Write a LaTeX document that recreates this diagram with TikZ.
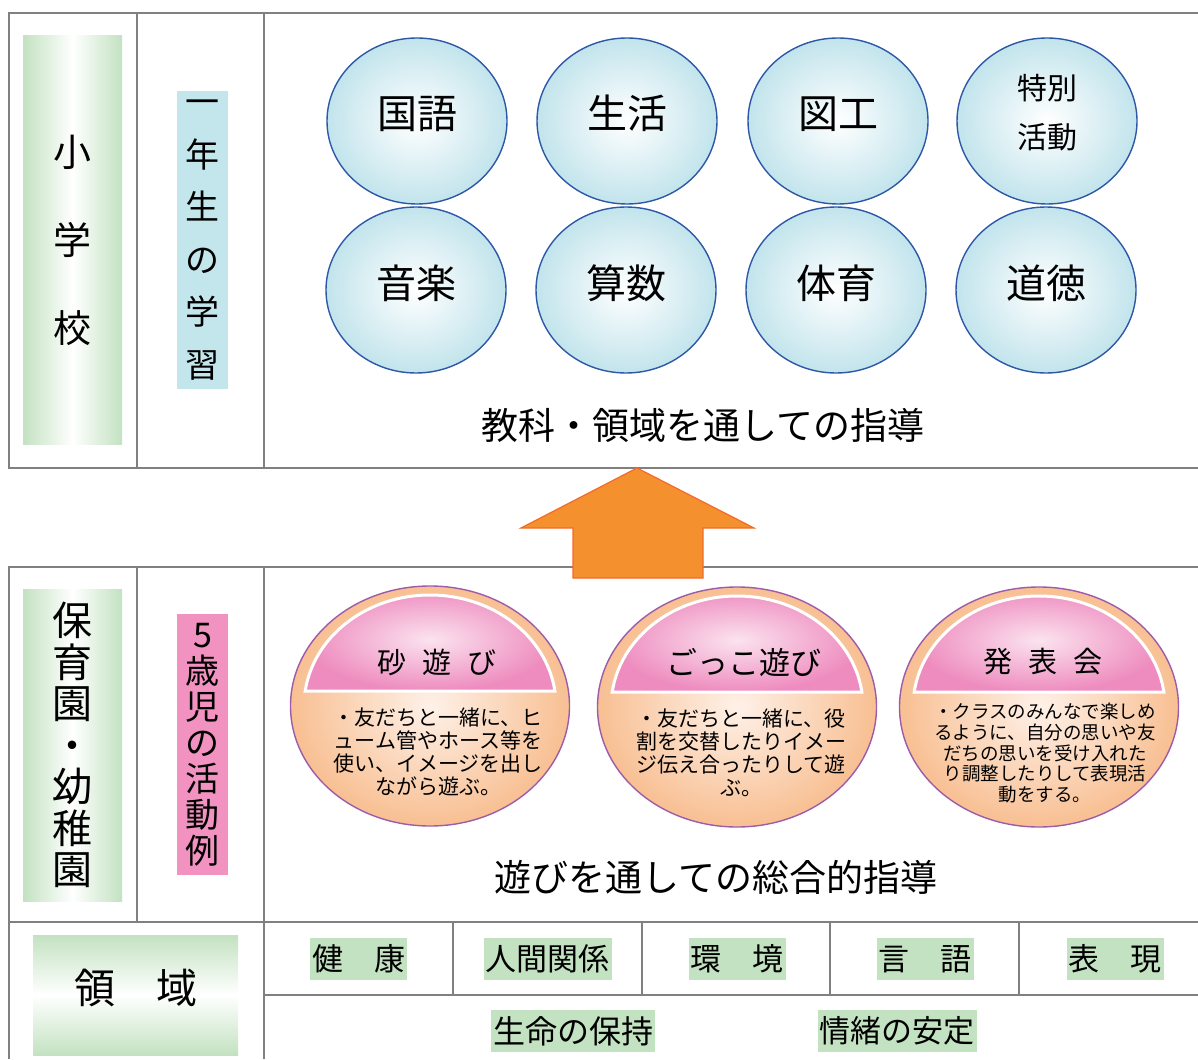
\documentclass[tikz,border=0pt]{standalone}
\usepackage{fontspec}
\setmainfont{Noto Sans CJK JP}
\usetikzlibrary{shapes.geometric}

\definecolor{gridgray}{HTML}{808080}
\definecolor{leafgreen}{HTML}{C3E2C1}
\definecolor{paleblue}{HTML}{C2E6EC}
\definecolor{ballblue}{HTML}{C2E4EC}
\definecolor{ballline}{HTML}{2D58A7}
\definecolor{candypink}{HTML}{F192C0}
\definecolor{domepink}{HTML}{EE8CBF}
\definecolor{domelight}{HTML}{FBE3EF}
\definecolor{peach}{HTML}{F8BF92}
\definecolor{peachlight}{HTML}{FEF1E8}
\definecolor{plum}{HTML}{9C5CAA}
\definecolor{arrowfill}{HTML}{F5902F}
\definecolor{arrowline}{HTML}{F26B29}

\begin{document}
\begin{tikzpicture}[x=1pt,y=-1pt,
		gridline/.style={draw=gridgray, line width=2.2pt},
		greenbar/.style={inner sep=0pt, left color=leafgreen, right color=leafgreen, middle color=white, align=center},
		subject/.style={ellipse, draw=ballline, line width=1.4pt, inner sep=0pt, minimum width=180pt, minimum height=166pt, shade, shading=radial, inner color=white, outer color=ballblue, font=\fontsize{40}{48}\selectfont, text height=34pt, text depth=18pt},
		playball/.style={ellipse, draw=plum, line width=1.4pt, inner sep=0pt, minimum width=279pt, minimum height=240pt, shade, shading=radial, inner color=peachlight, outer color=peach},
		dome/.style={draw=white, line width=3pt, shade, shading=radial, inner color=domelight, outer color=domepink},
		playtitle/.style={font=\fontsize{29}{30}\selectfont},
		playtext/.style={align=center, inner sep=0pt, font=\fontsize{21}{23}\selectfont},
		domainbox/.style={fill=leafgreen, inner xsep=2pt, inner ysep=0pt, minimum height=42pt, font=\fontsize{31}{31}\selectfont},
		guide/.style={font=\fontsize{37}{37}\selectfont}
	]
		
		\useasboundingbox (0,0) rectangle (1198,1059);
		
		% Table lines
		
		\draw[gridline] (1198,13) -- (9,13) -- (9,468) -- (1198,468);
		\draw[gridline] (137,13) -- (137,468);
		\draw[gridline] (264,13) -- (264,468);
		
		\draw[gridline] (1198,567) -- (9,567) -- (9,1059);
		\draw[gridline] (137,567) -- (137,922);
		\draw[gridline] (264,567) -- (264,1059);
		\draw[gridline] (9,922) -- (1198,922);
		\draw[gridline] (264,995) -- (1198,995);
		\foreach \x in {453,642,830,1019}
		\draw[gridline] (\x,922) -- (\x,995);
		
		% Elementary school
		
		\node[greenbar, minimum width=99pt, minimum height=408pt, font=\fontsize{38}{88}\selectfont]
		(school) at (72.5,240) {小\\学\\校};
		
		\node[fill=paleblue, inner sep=0pt, minimum width=51pt, minimum height=298pt, align=center, font=\fontsize{34}{52.5}\selectfont]
		(firstgrade) at (202.5,240) {一\\年\\生\\の\\学\\習};
		
		% Subjects
		
		\node[subject] (japanese) at (417,121) {国語};
		\node[subject] (life) at (627,121) {生活};
		\node[subject] (arts) at (838,121) {図工};
		\node[subject] (special) at (1047,121) {};
		\node[align=center, font=\fontsize{30}{49}\selectfont]
		(specialtext) at (1047,113) {特別\\活動};
		
		\node[subject] (music) at (416,290) {音楽};
		\node[subject] (math) at (626,290) {算数};
		\node[subject] (pe) at (836,290) {体育};
		\node[subject] (moral) at (1046,290) {道徳};
		
		\node[guide] (subjectguide) at (703,425) {教科・領域を通しての指導};
		
		% Arrow
		
		\draw[draw=arrowline, fill=arrowfill, line width=1.2pt]
		(637,468) -- (754,528) -- (703,528) -- (703,578) -- (573,578) -- (573,528) -- (521,528) -- cycle;
		
		% Nursery school / kindergarten
		
		\node[greenbar, minimum width=99pt, minimum height=312pt, font=\fontsize{40}{41.5}\selectfont]
		(nursery) at (72.5,745) {保\\育\\園\\・\\幼\\稚\\園};
		
		\node[fill=candypink, inner sep=0pt, minimum width=51pt, minimum height=261pt, align=center, font=\fontsize{34}{36}\selectfont]
		(fiveyear) at (202.5,744.5) {5\\歳\\児\\の\\活\\動\\例};
		
		% Play examples
		
		\node[playball] (sandplay) at (430,706) {};
		\node[playball] (pretend) at (737,707) {};
		\node[playball] (recital) at (1039,707) {};
		
		\shade[dome] ([shift={(-124.8,-15)}]sandplay.center) arc[start angle=187.77, end angle=352.23, x radius=126, y radius=111] -- cycle;
		\shade[dome] ([shift={(-124.8,-15)}]pretend.center) arc[start angle=187.77, end angle=352.23, x radius=126, y radius=111] -- cycle;
		\shade[dome] ([shift={(-124.8,-15)}]recital.center) arc[start angle=187.77, end angle=352.23, x radius=126, y radius=111] -- cycle;
		
		\node[playtitle] (sandtitle) at (437,662) {砂\hspace{.55em}遊\hspace{.55em}び};
		\node[playtitle, font=\fontsize{31}{31}\selectfont] (pretendtitle) at (744,663) {ごっこ遊び};
		\node[playtitle] (recitaltitle) at (1043,662) {発\hspace{.55em}表\hspace{.55em}会};
		
		\node[playtext] (sandtext) at (438,752)
		{・友だちと一緒に、ヒ\\ューム管やホース等を\\使い、イメージを出し\\ながら遊ぶ。};
		\node[playtext] (pretendtext) at (741,753)
		{・友だちと一緒に、役\\割を交替したりイメー\\ジ伝え合ったりして遊\\ぶ。};
		\node[playtext, font=\fontsize{18.5}{20.6}\selectfont] (recitaltext) at (1045,753)
		{・クラスのみんなで楽しめ\\るように、自分の思いや友\\だちの思いを受け入れた\\り調整したりして表現活\\動をする。};
		
		\node[guide] (playguide) at (716,877) {遊びを通しての総合的指導};
		
		% Domains
		
		\node[inner sep=0pt, minimum width=205pt, minimum height=120pt, top color=leafgreen, bottom color=leafgreen, middle color=white, font=\fontsize{41}{41}\selectfont, text height=37pt, text depth=20pt]
		(domains) at (135.5,995) {領　域};
		
		\node[domainbox] (health) at (358.5,959) {健　康};
		\node[domainbox] (relations) at (547.5,959) {人間関係};
		\node[domainbox] (environment) at (737,959) {環　境};
		\node[domainbox] (language) at (925,959) {言　語};
		\node[domainbox] (expression) at (1115,959) {表　現};
		
		\node[domainbox, font=\fontsize{32}{32}\selectfont] (lifecare) at (573,1031) {生命の保持};
		\node[domainbox] (emotion) at (897,1031) {情緒の安定};
		
	\end{tikzpicture}
\end{document}
